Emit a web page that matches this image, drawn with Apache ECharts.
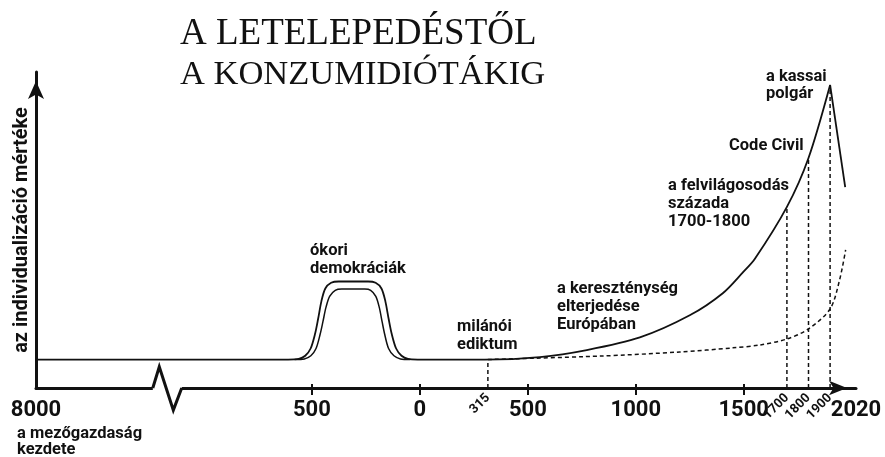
<!DOCTYPE html>
<html>
<head>
<meta charset="utf-8">
<script src="https://cdn.jsdelivr.net/npm/echarts@6.0.0/dist/echarts.min.js"></script>
<style>
html, body { margin: 0; padding: 0; background: #fff; }
#chart { width: 885px; height: 457px; }
</style>
</head>
<body>
<div id="chart"></div>
<script>
// a tengely bal vége (i.e. 8000), a törés után összenyomva
var axisStart = -1778;
var axisEnd   = 2020;

// fő görbe (évszám, individualizáció mértéke)
var mainYears  = [axisStart, -610, -561, -531, -506, -486, -471, -456, -438, -411, -376, -240, -205, -178, -160, -145, -130, -110, -85, -55, -10, 150, 300, 556, 773, 1019, 1250, 1403, 1495, 1551, 1700, 1800, 1900];
var mainLevels = [9, 9, 9.2, 10.2, 12.5, 17, 22, 27.5, 31.5, 33.3, 33.7, 33.7, 33.3, 31.5, 27.5, 22, 17, 12.5, 10.2, 9.2, 9, 9, 9, 9.8, 12.0, 16.0, 23.0, 30, 36.5, 40.8, 57.3, 72.8, 95.9];

// ókori demokráciák belső íve
var innerYears  = [-580, -535, -505, -481, -462, -449, -435, -418, -392, -362, -255, -228, -204, -188, -175, -163, -145, -120, -90, -45];
var innerLevels = [9, 9.2, 10.2, 12.5, 17, 21, 25.5, 29, 30.9, 31.3, 31.3, 30.9, 29, 25.5, 21, 17, 12.5, 10.2, 9.2, 9];

// a kassai polgár után: zuhanás
var dropYears  = [1900, 1970];
var dropLevels = [95.9, 63.6];

// szaggatott görbe
var dashYears  = [315, 833, 1204, 1449, 1574, 1700, 1800, 1900, 1944, 1972];
var dashLevels = [9, 10.1, 11.4, 12.7, 13.6, 15.5, 18.7, 25, 34.2, 43.7];

// függőleges jelölők
var markYears  = [315, 1700, 1800, 1900];
var markLevels = [9, 57.3, 72.8, 95.9];

// tengelyfeliratok
var tickValues  = [axisStart, -500, 0, 500, 1000, 1500, axisEnd];
var tickMarks   = [-500, 0, 500, 1000, 1500];
var rotLabels   = [315, 1700, 1800, 1900];

// törésjel a tengelyen
var breakYears  = [-1237, -1207, -1142, -1103];
var breakLevels = [0, 6.7, -7, 0];

function zip(xs, ys) {
    var out = [];
    for (var i = 0; i < xs.length; i++) {
        out.push([xs[i], ys[i]]);
    }
    return out;
}

var ink = '#111';
var numFont  = "Roboto, 'Noto Sans', sans-serif";
var noteFont = "Roboto, 'Noto Sans', sans-serif";

function note(text, x, y, lh) {
    return {
        type: 'text', x: x, y: y, z: 10,
        style: {
            text: text, fill: ink, verticalAlign: 'top',
            fontFamily: noteFont, fontSize: 16.5, fontWeight: 'bold',
            lineHeight: lh || 18
        }
    };
}

var markSeries = [];
for (var i = 0; i < markYears.length; i++) {
    markSeries.push({
        type: 'line', symbol: 'none', silent: true, z: 1,
        lineStyle: { color: ink, width: 1.5, type: [4, 3] },
        data: [[markYears[i], 0], [markYears[i], markLevels[i]]]
    });
}

var myChart = echarts.init(document.getElementById('chart'));
var option = {
    backgroundColor: '#fff',
    animation: false,
    title: [
        {
            text: 'A LETELEPEDÉSTŐL', left: 180, top: 16, padding: 0,
            textStyle: { fontFamily: "'Liberation Serif', serif", fontSize: 37, fontWeight: 'normal', color: ink }
        },
        {
            text: 'A KONZUMIDIÓTÁKIG', left: 180, top: 57, padding: 0,
            textStyle: { fontFamily: "'Liberation Serif', serif", fontSize: 34.5, fontWeight: 'normal', color: ink }
        }
    ],
    grid: { left: 36, right: 29, top: 72, bottom: 69, containLabel: false, outerBoundsMode: 'none' },
    xAxis: [
        {
            type: 'value', min: axisStart, max: axisEnd,
            splitLine: { show: false },
            axisLine: {
                onZero: false,
                lineStyle: { color: ink, width: 3 },
                symbol: ['none', 'arrow'], symbolSize: [11, 18], symbolOffset: [0, -9]
            },
            axisTick: { customValues: tickMarks, length: 7, lineStyle: { color: ink, width: 2 } },
            axisLabel: {
                customValues: tickValues, margin: 11,
                fontFamily: numFont, fontSize: 22, fontWeight: 'bold', color: ink,
                formatter: function (v) {
                    if (v === axisStart) return '8000';
                    return String(Math.abs(v));
                }
            }
        },
        {
            type: 'value', min: axisStart, max: axisEnd, position: 'bottom',
            splitLine: { show: false },
            axisLine: { show: false, onZero: false },
            axisTick: { customValues: tickMarks, inside: true, length: 4, lineStyle: { color: ink, width: 2 } },
            axisLabel: {
                customValues: rotLabels, rotate: 45, margin: 8,
                fontFamily: numFont, fontSize: 13, fontWeight: 'bold', color: ink,
                formatter: function (v) { return String(v); }
            }
        }
    ],
    yAxis: {
        type: 'value', min: 0, max: 100,
        splitLine: { show: false },
        axisTick: { show: false },
        axisLabel: { show: false },
        axisLine: {
            onZero: false,
            lineStyle: { color: ink, width: 3 },
            symbol: ['none', 'arrow'], symbolSize: [12, 18], symbolOffset: [0, -9]
        },
        name: 'az individualizáció mértéke',
        nameLocation: 'middle', nameRotate: 90, nameGap: 4,
        nameTextStyle: { fontFamily: numFont, fontSize: 20, fontWeight: 'bold', color: ink }
    },
    graphic: [
        note('ókori\ndemokráciák', 310, 242),
        note('milánói\nediktum', 457, 318),
        note('a kereszténység\nelterjedése\nEurópában', 557, 280),
        note('a felvilágosodás\nszázada\n1700-1800', 668, 177),
        note('Code Civil', 729, 137),
        note('a kassai\npolgár', 766, 68, 17),
        note('a mezőgazdaság\nkezdete', 17, 426, 16)
    ],
    series: [
        {
            name: 'fő görbe', type: 'line', symbol: 'none', silent: true,
            smooth: 0.3,
            lineStyle: { color: ink, width: 1.8 },
            data: zip(mainYears, mainLevels)
        },
        {
            name: 'belső ív', type: 'line', symbol: 'none', silent: true,
            smooth: 0.3,
            lineStyle: { color: ink, width: 1.5 },
            data: zip(innerYears, innerLevels)
        },
        {
            name: 'zuhanás', type: 'line', symbol: 'none', silent: true,
            lineStyle: { color: ink, width: 1.8 },
            data: zip(dropYears, dropLevels)
        },
        {
            name: 'szaggatott', type: 'line', symbol: 'none', silent: true,
            smooth: 0.3,
            lineStyle: { color: ink, width: 1.5, type: [4, 3] },
            data: zip(dashYears, dashLevels)
        },
        {
            // tengely kitakarása a törésnél
            type: 'line', symbol: 'none', silent: true, clip: false, z: 3,
            lineStyle: { color: '#fff', width: 6 },
            data: [[breakYears[0], 0], [breakYears[3], 0]]
        },
        {
            type: 'line', symbol: 'none', silent: true, clip: false, z: 4,
            lineStyle: { color: ink, width: 3, join: 'miter' },
            data: zip(breakYears, breakLevels)
        }
    ].concat(markSeries)
};
myChart.setOption(option);
</script>
</body>
</html>
